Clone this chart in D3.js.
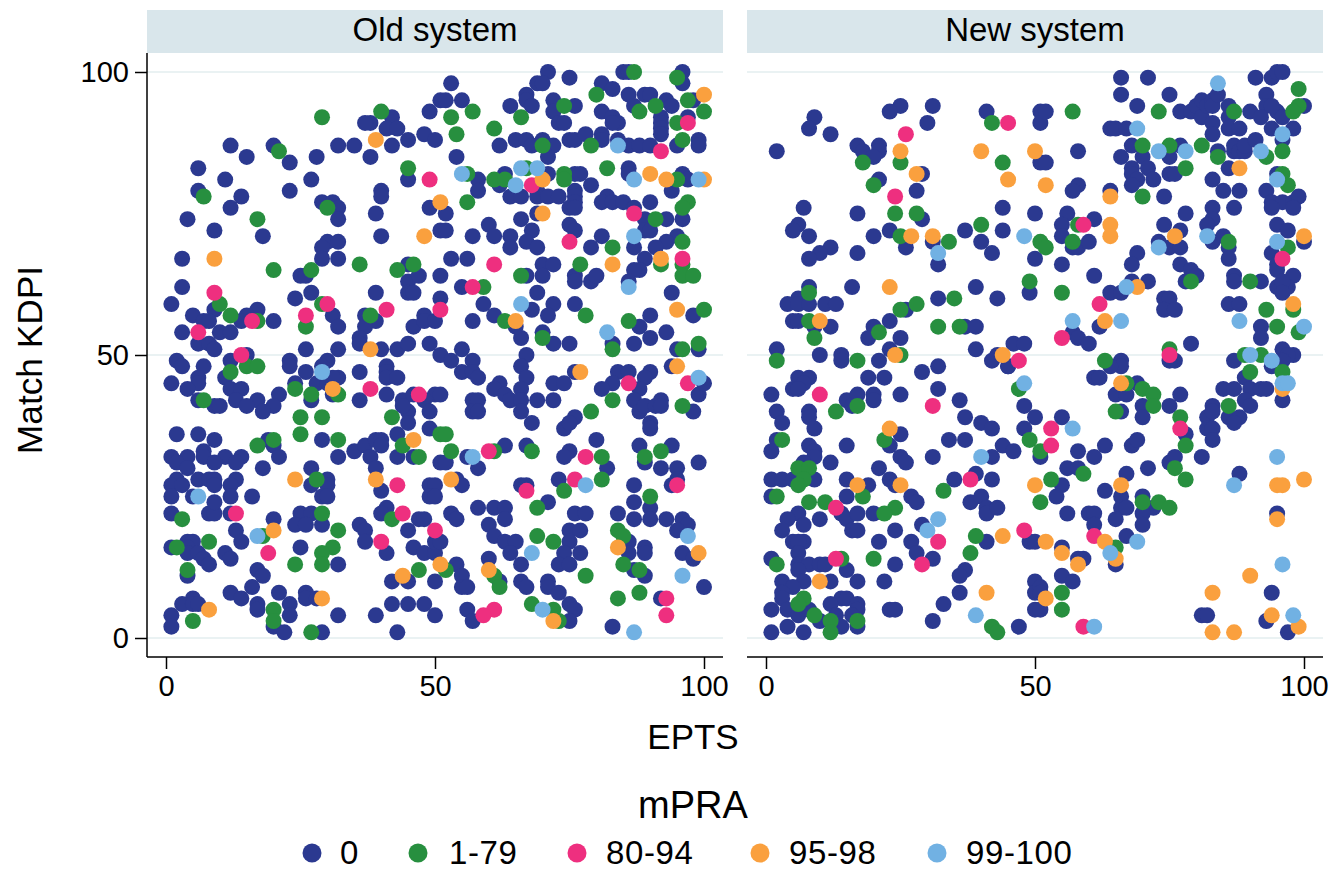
<!DOCTYPE html>
<html>
<head>
<meta charset="utf-8">
<script src="https://cdn.jsdelivr.net/npm/d3@7"></script>
<style>
html,body{margin:0;padding:0;background:#fff;}
text{font-family:"Liberation Sans",Arial,sans-serif;fill:#000;}
</style>
</head>
<body>
<svg id="chart" width="1332" height="871"></svg>
<script>
var panels=["Old system","New system"];
var groupLabels=["0","1-79","80-94","95-98","99-100"];
var groupColors=["#2b3990","#278f3f","#ee2f7f","#faa03e","#71b1e3"];
var xTicks=[0,50,100];
var yTicks=[0,50,100];

// [EPTS, KDPI], old system
var oldZero=[[42,92],[38,91],[37,91],[41,90],[43,90],[49,93],[51,95],[48,89],[50,88],[45,88],[42,87],[32,87],[35,87],[38,85],[28,85],[12,87],[20,87],[15,85],[23,84],[6,83],[11,81],[27,81],[45,81],[6,79],[23,79],[40,79],[40,78],[14,78],[12,76],[29,77],[31,77],[32,76],[32,74],[39,75],[49,76],[4,74],[9,72],[18,71],[40,71],[51,72],[30,70],[32,70],[29,69],[29,67],[32,67],[3,67],[45,66],[25,64],[26,64],[45,63],[47,64],[51,64],[45,61],[46,61],[3,62],[27,61],[39,61],[24,60],[51,60],[1,59],[31,57],[17,58],[9,58],[5,57],[7,56],[8,56],[15,57],[14,56],[20,56],[32,55],[37,57],[39,56],[37,55],[36,53],[36,52],[46,55],[48,57],[48,56],[50,56],[3,54],[10,54],[12,54],[6,52],[8,52],[9,51],[26,51],[32,51],[40,51],[43,51],[45,52],[49,52],[51,50],
[2,49],[3,48],[7,48],[12,49],[15,50],[23,49],[23,48],[30,49],[29,48],[26,47],[36,47],[41,48],[41,47],[41,46],[43,46],[6,46],[6,45],[1,45],[4,44],[11,46],[12,44],[14,44],[24,45],[28,45],[30,45],[32,46],[31,46],[31,43],[27,42],[21,43],[17,42],[20,41],[13,42],[15,41],[18,40],[6,42],[9,41],[10,41],[36,42],[41,43],[50,43],[44,42],[46,43],[45,40],[44,41],[48,42],[49,40],[45,38],[49,37],[43,36],[2,36],[6,36],[9,35],[29,35],[19,35],[20,34],[21,32],[7,33],[7,32],[1,32],[4,32],[11,32],[14,32],[2,31],[4,30],[9,31],[13,31],[18,30],[32,32],[35,33],[37,34],[39,35],[40,35],[40,34],[38,32],[39,30],[43,32],[46,32],[51,31],[27,30],[2,28],[1,27],[3,27],[6,28],[8,28],[9,28],[1,25],[5,25],[9,27],[13,28],[12,27],[12,25],[16,25],[27,27],[30,28],[30,27],[29,25],[30,25],[40,26],[49,27],[50,27],[49,25],[50,25],[1,22],[8,22],[9,22],[9,24],[12,22],[20,21],[25,22],[27,22],[24,20],[26,20],[29,20],[41,23],[40,22],[45,19],[47,21],[48,21],[36,20],[37,19],[13,19],[14,17],[37,17],[4,17],[5,17],[1,16],[4,16],[4,15],[6,15],[7,14],[8,13],[11,15],[12,14],[25,16],[32,13],[41,15],[46,16],[48,15],[50,15],[50,17],[17,12],[18,11],[4,11],[42,10],[45,10],[50,10],[16,9],[12,8],[14,7],[21,8],[26,8],[26,7],[28,7],[17,6],[17,5],[23,6],[23,4],[5,7],[3,6],[5,6],[6,6],[1,4],[1,2],[32,4],[39,4],[42,6],[45,6],[48,6],[50,4],[20,2],[22,1],[29,1],[43,1],
[71,100],[75,99],[69,98],[70,98],[53,98],[85,100],[86,100],[81,98],[83,97],[96,100],[96,98],[67,96],[67,95],[52,95],[55,95],[64,94],[68,94],[72,95],[76,94],[72,93],[86,96],[89,96],[90,96],[87,94],[93,95],[94,94],[98,95],[81,93],[83,92],[84,91],[83,91],[73,91],[74,91],[92,92],[92,91],[92,90],[92,89],[97,92],[62,87],[65,88],[67,88],[68,87],[70,88],[72,87],[75,88],[76,88],[78,89],[81,89],[81,88],[84,88],[86,87],[88,87],[90,87],[95,87],[99,88],[99,87],[54,85],[71,85],[86,83],[86,82],[58,81],[58,79],[63,82],[62,80],[71,82],[76,82],[77,82],[79,80],[96,82],[97,81],[94,79],[64,78],[66,78],[69,79],[69,78],[71,78],[73,78],[76,79],[76,78],[82,78],[81,77],[83,77],[85,77],[75,76],[76,77],[76,76],[90,77],[87,76],[52,75],[69,75],[66,74],[89,74],[93,74],[96,74],[89,72],[90,72],[60,73],[61,71],[52,72],[57,71],[68,72],[64,71],[64,69],[67,70],[69,69],[75,73],[76,72],[81,71],[79,69],[87,69],[95,71],[93,70],[91,69],[89,67],[88,65],[87,65],[53,67],[56,67],[70,66],[72,66],[70,64],[67,64],[76,64],[76,63],[79,63],[80,64],[86,63],[55,62],[69,61],[94,61],[59,59],[72,59],[76,59],[68,58],[71,57],[61,57],[57,56],[98,57],[90,57],[88,55],[70,54],[66,53],[65,55],[90,53],[93,54],[72,52],[75,52],[83,52],[87,52],[95,51],[99,51],[55,51],[53,49],[57,49],[67,50],
[55,47],[57,47],[58,46],[66,48],[67,46],[66,44],[62,45],[61,44],[63,43],[64,42],[66,42],[69,42],[72,42],[72,45],[74,45],[76,47],[51,43],[57,42],[58,42],[57,40],[58,40],[66,40],[68,38],[76,39],[74,37],[75,38],[84,47],[86,47],[90,47],[89,46],[83,45],[81,44],[88,44],[87,42],[88,40],[89,41],[91,41],[92,42],[92,41],[90,38],[90,37],[98,40],[99,43],[100,45],[94,48],[63,34],[67,34],[80,35],[88,34],[94,34],[75,33],[74,32],[56,32],[52,31],[58,30],[82,30],[89,31],[92,30],[95,30],[99,31],[54,28],[55,27],[66,27],[67,27],[73,28],[95,28],[94,27],[87,27],[71,24],[87,24],[90,23],[58,23],[61,23],[63,23],[63,21],[53,22],[54,21],[76,22],[78,22],[84,22],[87,21],[90,21],[93,21],[96,21],[97,20],[60,20],[61,18],[63,17],[65,17],[64,15],[51,17],[75,19],[77,19],[75,17],[74,15],[77,15],[73,13],[75,13],[66,13],[86,17],[86,15],[89,16],[89,15],[95,19],[96,15],[98,14],[54,13],[55,11],[55,9],[56,9],[60,14],[62,10],[66,10],[67,9],[71,10],[71,9],[73,8],[87,12],[89,11],[100,9],[92,7],[75,6],[76,5],[75,3],[56,5],[57,3],[83,2]];
var oldLow=[[29,92],[40,93],[21,86],[45,83],[7,78],[30,76],[17,74],[20,65],[27,65],[36,66],[43,65],[46,66],[10,59],[12,57],[29,59],[38,57],[17,56],[26,55],[12,47],[15,48],[17,48],[24,44],[27,43],[32,43],[7,42],[25,39],[29,39],[42,39],[25,36],[51,36],[17,34],[20,35],[32,35],[44,34],[47,32],[28,28],[3,21],[29,22],[42,21],[32,19],[18,18],[8,17],[2,16],[31,16],[29,15],[29,13],[24,13],[4,12],[47,12],[20,5],[20,3],[5,3],[27,1],
[87,100],[95,99],[80,96],[97,95],[57,93],[74,94],[88,93],[91,94],[100,93],[53,92],[66,92],[95,91],[61,90],[54,89],[96,88],[70,87],[79,87],[82,83],[56,82],[67,83],[61,81],[63,81],[74,82],[74,81],[95,81],[56,77],[97,77],[96,76],[91,74],[83,69],[96,70],[77,66],[92,66],[96,66],[66,64],[96,64],[98,64],[59,62],[78,57],[63,56],[86,56],[100,58],[70,53],[83,51],[99,52],[96,51],
[52,36],[53,33],[61,33],[68,33],[81,32],[89,32],[92,33],[81,28],[74,26],[90,25],[69,23],[83,42],[96,41],[79,40],[69,18],[72,17],[84,19],[85,18],[85,13],[88,12],[52,12],[78,11],[61,11],[62,9],[84,7],[88,8],[68,6],[72,5],[73,3]];
var oldMid=[[49,81],[9,61],[30,59],[41,58],[26,57],[16,56],[6,54],[51,58],[14,50],[38,44],[47,43],[43,27],[13,22],[44,22],[50,19],[40,17],[19,15],[92,86],[97,91],[68,80],[87,75],[75,70],[61,66],[96,67],[57,62],[60,33],[78,32],[86,45],[97,45],[76,28],[67,26],[95,27],[93,7],[93,4],[61,5],[59,4]];
var oldHigh=[[39,88],[9,67],[51,77],[48,71],[38,51],[31,44],[46,35],[24,28],[39,28],[20,19],[51,13],[44,11],[29,7],[8,5],[100,96],[90,82],[93,81],[70,81],[100,81],[70,75],[83,66],[92,67],[65,56],[95,58],[77,47],[95,48],[53,28],[84,16],[99,15],[60,12],[72,3]];
var oldTop=[[29,47],[6,25],[17,18],[84,87],[55,82],[66,83],[69,83],[65,80],[87,81],[99,81],[87,71],[66,59],[86,62],[82,54],[99,46],[57,32],[78,27],[97,18],[68,15],[96,11],[70,5],[87,1]];

// [EPTS, KDPI], new system
var newZero=[[25,94],[23,93],[31,94],[41,93],[9,92],[8,90],[12,89],[30,91],[51,93],[51,91],[2,86],[17,87],[18,86],[21,87],[21,86],[20,85],[29,82],[21,81],[28,79],[51,84],[7,76],[17,75],[44,76],[50,75],[29,74],[6,73],[5,72],[8,71],[20,71],[23,72],[37,72],[44,72],[40,70],[31,70],[26,69],[42,68],[50,67],[12,69],[10,68],[8,67],[17,68],[32,66],[8,62],[16,62],[39,62],[6,60],[4,59],[6,59],[8,59],[11,59],[13,59],[32,60],[43,60],[49,61],[5,56],[6,56],[12,55],[9,55],[20,55],[23,56],[19,53],[25,53],[26,58],[37,55],[39,55],[23,51],[39,51],[46,52],[48,52],[43,50],[42,49],[2,51],[10,50],[14,50],[14,49],[21,49],[45,48],
[66,99],[71,99],[66,96],[75,96],[69,94],[52,93],[77,93],[79,93],[80,94],[81,95],[81,92],[82,94],[83,95],[83,94],[84,96],[83,91],[83,89],[86,94],[86,92],[86,90],[88,90],[90,93],[91,99],[94,99],[95,100],[96,100],[93,96],[93,94],[92,92],[95,93],[94,90],[96,92],[98,90],[96,88],[94,94],[100,94],[64,90],[65,90],[67,90],[68,87],[66,85],[70,85],[68,83],[71,83],[68,82],[69,81],[72,81],[68,80],[75,85],[77,87],[75,82],[76,82],[58,86],[52,84],[58,80],[57,79],[64,79],[74,78],[83,81],[85,79],[88,79],[87,86],[87,87],[88,86],[89,86],[89,87],[91,88],[84,86],[86,83],[93,79],[95,82],[94,77],[96,77],[98,77],[99,78],[94,76],[98,76],[78,75],[83,76],[83,74],[82,73],[87,76],[56,75],[55,73],[55,71],[61,74],[74,73],[77,72],[73,70],[75,69],[77,69],[83,70],[85,71],[95,73],[97,72],[100,70],[57,69],[58,69],[60,70],[69,68],[68,66],[55,66],[86,69],[86,67],[94,68],[95,66],[95,65],[77,66],[79,65],[80,64],[78,63],[87,64],[87,63],[92,63],[98,64],[95,62],[97,62],[96,63],[96,61],[61,64],[71,63],[68,63],[64,61],[66,61],[74,60],[75,60],[74,58],[76,58],[86,59],[88,59],[62,55],[92,55],[92,53],[57,54],[58,53],[60,52],[79,52],[96,51],[98,50],[97,50],[87,49],[66,49],[76,49],[75,49],
[29,47],[32,48],[45,48],[19,46],[22,46],[6,46],[8,46],[7,45],[5,44],[6,44],[1,43],[15,42],[17,43],[16,41],[20,43],[20,42],[25,43],[32,44],[36,42],[48,41],[50,39],[37,39],[40,38],[42,37],[48,37],[2,40],[3,38],[8,40],[8,39],[9,37],[25,36],[23,34],[2,35],[1,33],[8,34],[9,33],[9,32],[15,34],[7,31],[12,31],[34,35],[37,35],[44,34],[46,33],[42,32],[31,32],[25,32],[26,31],[21,30],[1,28],[3,28],[5,28],[9,28],[15,28],[19,27],[23,28],[24,27],[35,28],[42,28],[39,29],[1,25],[15,25],[27,25],[28,24],[38,24],[40,25],[41,23],[41,22],[43,23],[6,22],[4,21],[3,19],[7,20],[10,21],[14,22],[15,21],[17,22],[20,22],[16,19],[17,19],[24,19],[29,20],[5,17],[7,17],[6,17],[6,15],[21,17],[27,17],[28,15],[41,17],[49,17],[50,17],[1,14],[6,13],[8,13],[10,13],[11,13],[6,12],[7,10],[15,12],[24,13],[31,14],[37,12],[36,11],[3,10],[5,9],[3,8],[3,7],[12,10],[17,10],[22,10],[50,10],[36,8],[14,7],[15,7],[17,6],[17,5],[33,6],[12,6],[1,5],[4,5],[6,4],[8,5],[13,4],[16,4],[23,5],[24,5],[31,3],[4,2],[1,1],[7,1],[10,3],[14,2],[17,2],[47,2],[50,5],[50,8],
[66,48],[64,48],[96,49],[94,48],[61,46],[62,46],[69,45],[65,43],[67,43],[77,43],[89,46],[85,44],[87,44],[90,44],[92,44],[93,44],[89,42],[90,41],[96,42],[70,41],[70,39],[75,41],[66,40],[55,39],[83,41],[82,39],[83,40],[82,37],[83,37],[83,35],[86,39],[88,39],[87,38],[78,36],[51,32],[58,33],[61,32],[63,34],[68,34],[69,35],[81,32],[75,31],[76,32],[56,30],[58,30],[67,29],[71,30],[88,29],[55,27],[54,25],[63,26],[66,25],[66,23],[67,23],[70,25],[72,23],[70,22],[70,20],[56,22],[60,22],[61,22],[61,20],[65,21],[67,18],[95,22],[55,16],[58,14],[59,14],[65,13],[51,9],[51,8],[55,11],[57,10],[94,8],[51,5],[81,4],[82,4],[93,3],[97,1]];
var newLow=[[42,91],[18,84],[25,84],[44,84],[20,80],[24,75],[28,75],[40,73],[25,71],[34,70],[51,70],[49,63],[8,61],[35,60],[28,59],[25,58],[8,56],[9,53],[32,55],[36,55],[21,54],[2,49],[17,49],[25,50],
[57,93],[73,93],[87,93],[99,97],[99,94],[98,93],[70,87],[75,87],[81,87],[84,85],[93,85],[96,86],[78,83],[96,82],[97,80],[70,78],[58,73],[52,69],[57,70],[86,70],[97,69],[79,63],[90,63],[55,61],[93,58],[98,58],[95,55],[99,54],[75,51],[63,49],[89,50],[92,50],
[17,41],[13,40],[47,44],[22,35],[3,35],[49,35],[51,33],[6,30],[8,30],[7,28],[6,27],[2,25],[18,25],[8,24],[11,24],[33,26],[51,24],[24,23],[22,22],[39,18],[38,15],[14,14],[20,14],[2,13],[7,7],[6,6],[9,4],[12,3],[12,1],[17,3],[42,2],[43,1],
[67,45],[70,44],[72,43],[72,41],[65,40],[77,39],[90,47],[96,47],[86,41],[78,34],[76,30],[78,28],[59,29],[53,28],[70,24],[73,24],[75,23],[65,16],[55,8],[55,5]];
var newMid=[[26,89],[45,91],[24,78],[47,49],[59,73],[96,67],[62,59],[55,53],[75,50],[10,43],[31,41],[38,28],[13,23],[48,19],[32,17],[13,14],[29,13],[77,37],[53,37],[53,34],[61,18],[59,2]];
var newHigh=[[25,86],[40,86],[50,86],[28,82],[45,81],[52,80],[27,71],[31,71],[23,62],[10,56],[24,50],[44,50],[64,78],[64,73],[64,71],[76,71],[100,71],[88,83],[69,62],[63,56],[98,59],[23,37],[17,27],[25,27],[50,27],[44,18],[52,17],[10,10],[41,8],[52,7],[66,45],[96,44],[66,27],[95,27],[96,27],[100,28],[95,21],[63,17],[55,15],[58,13],[65,14],[90,11],[83,8],[94,4],[99,2],[83,1],[87,1]];
var newTop=[[48,71],[32,68],[84,98],[69,90],[73,86],[78,86],[92,86],[96,89],[95,81],[82,71],[73,69],[95,70],[67,62],[57,56],[66,56],[88,56],[100,55],[90,50],[94,49],[48,45],[40,32],[32,21],[30,19],[39,4],[57,37],[96,45],[97,45],[95,32],[87,27],[69,17],[64,15],[96,13],[98,4],[61,2]];

var oldSeries=[oldZero,oldLow,oldMid,oldHigh,oldTop];
var newSeries=[newZero,newLow,newMid,newHigh,newTop];

var svg=d3.select("#chart");
var top_y=53,bottom_y=657,strip_top=10;
var panelLeft=[147,747],panelWidth=576;
var tickFont=29;

//y scale is shared, x is relative to each panel
var y=d3.scaleLinear().domain([0,100]).range([638,72]);
var x=d3.scaleLinear().domain([0,100]).range([19,557]);

panels.forEach(function(name,p){
	var g=svg.append("g").attr("transform","translate("+panelLeft[p]+",0)");

	//strip
	g.append("rect").attr("x",0).attr("y",strip_top)
		.attr("width",panelWidth).attr("height",top_y-strip_top)
		.attr("fill","#d9e6eb");
	g.append("text").attr("x",panelWidth/2).attr("y",41)
		.attr("text-anchor","middle").style("font-size","33px").text(name);

	//grid
	g.selectAll("line.grid").data(yTicks).enter().append("line")
		.attr("class","grid")
		.attr("x1",0).attr("x2",panelWidth)
		.attr("y1",function(d){return y(d);}).attr("y2",function(d){return y(d);})
		.attr("stroke","#eaf2f3").attr("stroke-width",2);

	//points, later groups go on top
	var series=p==0?oldSeries:newSeries;
	series.forEach(function(points,i){
		g.append("g").selectAll("circle").data(points).enter().append("circle")
			.attr("cx",function(d){return x(d[0]);})
			.attr("cy",function(d){return y(d[1]);})
			.attr("r",8)
			.attr("fill",groupColors[i]);
	});

	//x axis
	var xAxis=d3.axisBottom(x).tickValues(xTicks).tickSize(12).tickPadding(6).tickSizeOuter(0);
	var ax=g.append("g").attr("transform","translate(0,"+bottom_y+")").call(xAxis);
	ax.select(".domain").attr("d","M0,0H"+panelWidth).attr("stroke","#000").attr("stroke-width",1.5);
	ax.selectAll("line").attr("stroke","#000").attr("stroke-width",1.5);
	ax.selectAll("text").style("font-size",tickFont+"px").style("font-family",'"Liberation Sans"').attr("fill","#000");

	//y axis only on the first panel
	if(p==0){
		var yAxis=d3.axisLeft(y).tickValues(yTicks).tickSize(12).tickPadding(6).tickSizeOuter(0);
		var ay=g.append("g").call(yAxis);
		ay.select(".domain").attr("d","M0,"+top_y+"V"+bottom_y).attr("stroke","#000").attr("stroke-width",1.5);
		ay.selectAll("line").attr("stroke","#000").attr("stroke-width",1.5);
		ay.selectAll("text").style("font-size",tickFont+"px").style("font-family",'"Liberation Sans"').attr("fill","#000");
	}
});

//axis titles
svg.append("text").attr("x",693).attr("y",749).attr("text-anchor","middle").style("font-size","35px").text("EPTS");
svg.append("text").attr("transform","translate(42,360) rotate(-90)").attr("text-anchor","middle").style("font-size","35.3px").text("Match KDPI");

//legend
svg.append("text").attr("x",693).attr("y",818).attr("text-anchor","middle").style("font-size","38px").text("mPRA");
var legendDotX=[312,418,577,760,937];
var legendTextX=[340,449,606,789,966];
groupLabels.forEach(function(label,i){
	svg.append("circle").attr("cx",legendDotX[i]).attr("cy",853).attr("r",9.5).attr("fill",groupColors[i]);
	svg.append("text").attr("x",legendTextX[i]).attr("y",864).style("font-size","33px").style("letter-spacing","0.6px").text(label);
});
</script>
</body>
</html>
